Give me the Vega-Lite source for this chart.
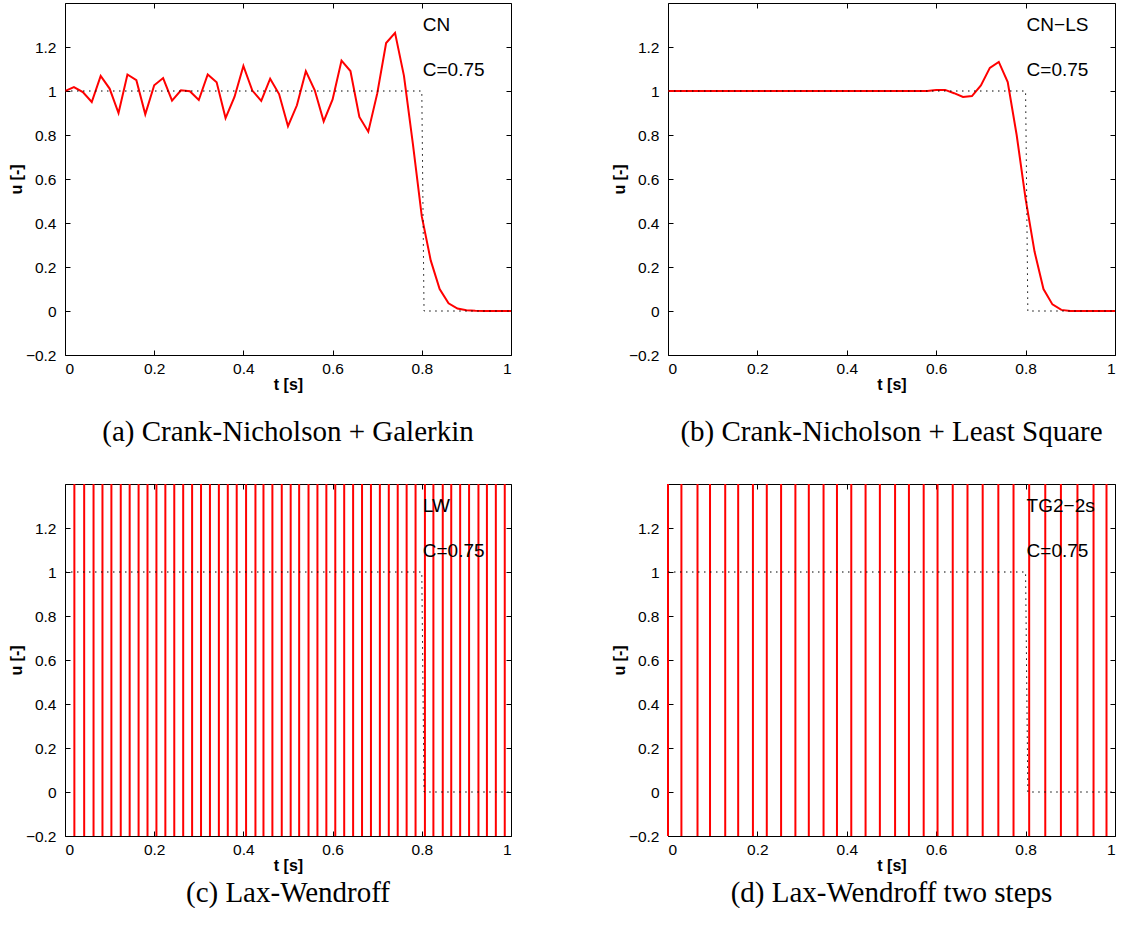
{
  "$schema": "https://vega.github.io/schema/vega-lite/v6.json",
  "background": "white",
  "padding": {"left": 8, "top": 2, "right": 0, "bottom": 0},
  "config": {
    "view": {"stroke": null},
    "axis": {
      "grid": false,
      "domainColor": "black",
      "domainWidth": 1,
      "tickColor": "black",
      "tickWidth": 1,
      "tickSize": -5,
      "labelColor": "black",
      "titleColor": "black",
      "labelFont": "Liberation Sans",
      "titleFont": "Liberation Sans",
      "labelFontSize": 15.5,
      "titleFontSize": 16,
      "titleFontWeight": "bold"
    },
    "axisX": {"labelPadding": 11, "titlePadding": 0},
    "axisY": {"labelPadding": 14, "titlePadding": 1},
    "title": {
      "orient": "bottom",
      "font": "Liberation Serif",
      "fontSize": 29,
      "fontWeight": "normal",
      "color": "black",
      "anchor": "middle",
      "frame": "group"
    }
  },
  "datasets": {
    "cn": [
      {"t": 0.00, "u": 1.000}, {"t": 0.02, "u": 1.018}, {"t": 0.04, "u": 0.995}, {"t": 0.06, "u": 0.950},
      {"t": 0.08, "u": 1.068}, {"t": 0.10, "u": 1.011}, {"t": 0.12, "u": 0.900}, {"t": 0.14, "u": 1.075},
      {"t": 0.16, "u": 1.049}, {"t": 0.18, "u": 0.894}, {"t": 0.20, "u": 1.026}, {"t": 0.22, "u": 1.059},
      {"t": 0.24, "u": 0.956}, {"t": 0.26, "u": 1.003}, {"t": 0.28, "u": 0.999}, {"t": 0.30, "u": 0.959},
      {"t": 0.32, "u": 1.075}, {"t": 0.34, "u": 1.040}, {"t": 0.36, "u": 0.877}, {"t": 0.38, "u": 0.973},
      {"t": 0.40, "u": 1.114}, {"t": 0.42, "u": 1.002}, {"t": 0.44, "u": 0.955}, {"t": 0.46, "u": 1.056},
      {"t": 0.48, "u": 0.986}, {"t": 0.50, "u": 0.840}, {"t": 0.52, "u": 0.935}, {"t": 0.54, "u": 1.090},
      {"t": 0.56, "u": 1.003}, {"t": 0.58, "u": 0.862}, {"t": 0.60, "u": 0.962}, {"t": 0.62, "u": 1.138},
      {"t": 0.64, "u": 1.091}, {"t": 0.66, "u": 0.882}, {"t": 0.68, "u": 0.815}, {"t": 0.70, "u": 0.988},
      {"t": 0.72, "u": 1.218}, {"t": 0.74, "u": 1.264}, {"t": 0.76, "u": 1.069}, {"t": 0.78, "u": 0.760},
      {"t": 0.80, "u": 0.430}, {"t": 0.82, "u": 0.230}, {"t": 0.84, "u": 0.100}, {"t": 0.86, "u": 0.035},
      {"t": 0.88, "u": 0.011}, {"t": 0.90, "u": 0.003}, {"t": 0.92, "u": 0.001}, {"t": 0.94, "u": 0.000},
      {"t": 0.96, "u": 0.000}, {"t": 0.98, "u": 0.000}, {"t": 1.00, "u": 0.000}
    ],
    "cnls": [
      {"t": 0.00, "u": 1.000}, {"t": 0.02, "u": 1.000}, {"t": 0.04, "u": 1.000}, {"t": 0.06, "u": 1.000},
      {"t": 0.08, "u": 1.000}, {"t": 0.10, "u": 1.000}, {"t": 0.12, "u": 1.000}, {"t": 0.14, "u": 1.000},
      {"t": 0.16, "u": 1.000}, {"t": 0.18, "u": 1.000}, {"t": 0.20, "u": 1.000}, {"t": 0.22, "u": 1.000},
      {"t": 0.24, "u": 1.000}, {"t": 0.26, "u": 1.000}, {"t": 0.28, "u": 1.000}, {"t": 0.30, "u": 1.000},
      {"t": 0.32, "u": 1.000}, {"t": 0.34, "u": 1.000}, {"t": 0.36, "u": 1.000}, {"t": 0.38, "u": 1.000},
      {"t": 0.40, "u": 1.000}, {"t": 0.42, "u": 1.000}, {"t": 0.44, "u": 1.000}, {"t": 0.46, "u": 1.000},
      {"t": 0.48, "u": 1.000}, {"t": 0.50, "u": 1.000}, {"t": 0.52, "u": 1.000}, {"t": 0.54, "u": 1.000},
      {"t": 0.56, "u": 1.000}, {"t": 0.58, "u": 1.000}, {"t": 0.60, "u": 1.005}, {"t": 0.62, "u": 1.005},
      {"t": 0.64, "u": 0.990}, {"t": 0.66, "u": 0.973}, {"t": 0.68, "u": 0.977}, {"t": 0.70, "u": 1.025},
      {"t": 0.72, "u": 1.105}, {"t": 0.74, "u": 1.132}, {"t": 0.76, "u": 1.041}, {"t": 0.78, "u": 0.800},
      {"t": 0.80, "u": 0.510}, {"t": 0.82, "u": 0.270}, {"t": 0.84, "u": 0.100}, {"t": 0.86, "u": 0.030},
      {"t": 0.88, "u": 0.005}, {"t": 0.90, "u": 0.000}, {"t": 0.92, "u": 0.000}, {"t": 0.94, "u": 0.000},
      {"t": 0.96, "u": 0.000}, {"t": 0.98, "u": 0.000}, {"t": 1.00, "u": 0.000}
    ],
    "lw": [
      {"t": 0.021}, {"t": 0.043}, {"t": 0.064}, {"t": 0.084}, {"t": 0.104}, {"t": 0.125}, {"t": 0.145},
      {"t": 0.165}, {"t": 0.185}, {"t": 0.205}, {"t": 0.225}, {"t": 0.245}, {"t": 0.265}, {"t": 0.285},
      {"t": 0.305}, {"t": 0.325}, {"t": 0.345}, {"t": 0.365}, {"t": 0.385}, {"t": 0.406}, {"t": 0.427},
      {"t": 0.445}, {"t": 0.465}, {"t": 0.486}, {"t": 0.506}, {"t": 0.525}, {"t": 0.546}, {"t": 0.566},
      {"t": 0.586}, {"t": 0.606}, {"t": 0.626}, {"t": 0.646}, {"t": 0.666}, {"t": 0.686}, {"t": 0.706},
      {"t": 0.726}, {"t": 0.746}, {"t": 0.766}, {"t": 0.786}, {"t": 0.807}, {"t": 0.826}, {"t": 0.847},
      {"t": 0.866}, {"t": 0.886}, {"t": 0.906}, {"t": 0.927}, {"t": 0.946}, {"t": 0.966}, {"t": 0.986}
    ],
    "tg2": [
      {"t": 0.000}, {"t": 0.030}, {"t": 0.066}, {"t": 0.094}, {"t": 0.128}, {"t": 0.157}, {"t": 0.190},
      {"t": 0.221}, {"t": 0.253}, {"t": 0.285}, {"t": 0.315}, {"t": 0.348}, {"t": 0.378}, {"t": 0.410},
      {"t": 0.442}, {"t": 0.474}, {"t": 0.508}, {"t": 0.539}, {"t": 0.572}, {"t": 0.603}, {"t": 0.637},
      {"t": 0.670}, {"t": 0.704}, {"t": 0.739}, {"t": 0.773}, {"t": 0.808}, {"t": 0.844}, {"t": 0.879},
      {"t": 0.916}, {"t": 0.952}, {"t": 0.981}
    ],
    "exact": [
      {"t": 0.0, "u": 1}, {"t": 0.8, "u": 1}, {"t": 0.805, "u": 0}, {"t": 1.0, "u": 0}
    ]
  },
  "vconcat": [
    {
      "hconcat": [
        {
          "width": 446, "height": 352,
          "title": {"text": "(a) Crank-Nicholson + Galerkin", "offset": 25},
          "layer": [
            {
              "data": {"name": "cn"},
              "mark": {"type": "line", "color": "#ff0000", "strokeWidth": 2, "clip": true},
              "encoding": {
                "x": {"field": "t", "type": "quantitative", "scale": {"domain": [0, 1], "nice": false, "zero": false},
                      "axis": {"orient": "bottom", "title": "t [s]", "values": [0, 0.2, 0.4, 0.6, 0.8, 1], "format": "~g"}},
                "y": {"field": "u", "type": "quantitative", "scale": {"domain": [-0.2, 1.4], "nice": false, "zero": false}, "axis": null}
              }
            },
            {
              "data": {"name": "exact"},
              "mark": {"type": "line", "color": "black", "strokeWidth": 1, "strokeDash": [1.5, 4.5]},
              "encoding": {
                "x": {"field": "t", "type": "quantitative", "scale": {"domain": [0, 1], "nice": false, "zero": false},
                      "axis": {"orient": "top", "title": null, "labels": false, "values": [0, 0.2, 0.4, 0.6, 0.8, 1]}},
                "y": {"field": "u", "type": "quantitative", "scale": {"domain": [-0.2, 1.4], "nice": false, "zero": false},
                      "axis": {"orient": "left", "title": "u [-]", "values": [-0.2, 0, 0.2, 0.4, 0.6, 0.8, 1, 1.2], "format": "~g"}}
              }
            },
            {
              "data": {"values": [{"t": 0.8, "u": 1.3, "label": "CN"}, {"t": 0.8, "u": 1.095, "label": "C=0.75"}]},
              "mark": {"type": "text", "align": "left", "baseline": "middle", "font": "Liberation Sans", "fontSize": 19, "dx": 1, "color": "black"},
              "encoding": {
                "x": {"field": "t", "type": "quantitative", "scale": {"domain": [0, 1], "nice": false, "zero": false}, "axis": null},
                "y": {"field": "u", "type": "quantitative", "scale": {"domain": [-0.2, 1.4], "nice": false, "zero": false},
                      "axis": {"orient": "right", "title": null, "labels": false, "values": [-0.2, 0, 0.2, 0.4, 0.6, 0.8, 1, 1.2]}},
                "text": {"field": "label"}
              }
            }
          ],
          "resolve": {"axis": {"x": "independent", "y": "independent"}}
        },
        {
          "width": 447, "height": 352,
          "title": {"text": "(b) Crank-Nicholson + Least Square", "offset": 25},
          "layer": [
            {
              "data": {"name": "cnls"},
              "mark": {"type": "line", "color": "#ff0000", "strokeWidth": 2, "clip": true},
              "encoding": {
                "x": {"field": "t", "type": "quantitative", "scale": {"domain": [0, 1], "nice": false, "zero": false},
                      "axis": {"orient": "bottom", "title": "t [s]", "values": [0, 0.2, 0.4, 0.6, 0.8, 1], "format": "~g"}},
                "y": {"field": "u", "type": "quantitative", "scale": {"domain": [-0.2, 1.4], "nice": false, "zero": false}, "axis": null}
              }
            },
            {
              "data": {"name": "exact"},
              "mark": {"type": "line", "color": "black", "strokeWidth": 1, "strokeDash": [1.5, 4.5]},
              "encoding": {
                "x": {"field": "t", "type": "quantitative", "scale": {"domain": [0, 1], "nice": false, "zero": false},
                      "axis": {"orient": "top", "title": null, "labels": false, "values": [0, 0.2, 0.4, 0.6, 0.8, 1]}},
                "y": {"field": "u", "type": "quantitative", "scale": {"domain": [-0.2, 1.4], "nice": false, "zero": false},
                      "axis": {"orient": "left", "title": "u [-]", "values": [-0.2, 0, 0.2, 0.4, 0.6, 0.8, 1, 1.2], "format": "~g"}}
              }
            },
            {
              "data": {"values": [{"t": 0.8, "u": 1.3, "label": "CN−LS"}, {"t": 0.8, "u": 1.095, "label": "C=0.75"}]},
              "mark": {"type": "text", "align": "left", "baseline": "middle", "font": "Liberation Sans", "fontSize": 19, "dx": 1, "color": "black"},
              "encoding": {
                "x": {"field": "t", "type": "quantitative", "scale": {"domain": [0, 1], "nice": false, "zero": false}, "axis": null},
                "y": {"field": "u", "type": "quantitative", "scale": {"domain": [-0.2, 1.4], "nice": false, "zero": false},
                      "axis": {"orient": "right", "title": null, "labels": false, "values": [-0.2, 0, 0.2, 0.4, 0.6, 0.8, 1, 1.2]}},
                "text": {"field": "label"}
              }
            }
          ],
          "resolve": {"axis": {"x": "independent", "y": "independent"}}
        }
      ],
      "spacing": 98
    },
    {
      "hconcat": [
        {
          "width": 446, "height": 352,
          "title": {"text": "(c) Lax-Wendroff", "offset": 5},
          "layer": [
            {
              "data": {"name": "lw"},
              "mark": {"type": "rule", "color": "#ff0000", "strokeWidth": 2},
              "encoding": {
                "x": {"field": "t", "type": "quantitative", "scale": {"domain": [0, 1], "nice": false, "zero": false},
                      "axis": {"orient": "bottom", "title": "t [s]", "values": [0, 0.2, 0.4, 0.6, 0.8, 1], "format": "~g"}}
              }
            },
            {
              "data": {"name": "exact"},
              "mark": {"type": "line", "color": "black", "strokeWidth": 1, "strokeDash": [1.5, 4.5]},
              "encoding": {
                "x": {"field": "t", "type": "quantitative", "scale": {"domain": [0, 1], "nice": false, "zero": false},
                      "axis": {"orient": "top", "title": null, "labels": false, "values": [0, 0.2, 0.4, 0.6, 0.8, 1]}},
                "y": {"field": "u", "type": "quantitative", "scale": {"domain": [-0.2, 1.4], "nice": false, "zero": false},
                      "axis": {"orient": "left", "title": "u [-]", "values": [-0.2, 0, 0.2, 0.4, 0.6, 0.8, 1, 1.2], "format": "~g"}}
              }
            },
            {
              "data": {"values": [{"t": 0.8, "u": 1.3, "label": "LW"}, {"t": 0.8, "u": 1.095, "label": "C=0.75"}]},
              "mark": {"type": "text", "align": "left", "baseline": "middle", "font": "Liberation Sans", "fontSize": 19, "dx": 1, "color": "black"},
              "encoding": {
                "x": {"field": "t", "type": "quantitative", "scale": {"domain": [0, 1], "nice": false, "zero": false}, "axis": null},
                "y": {"field": "u", "type": "quantitative", "scale": {"domain": [-0.2, 1.4], "nice": false, "zero": false},
                      "axis": {"orient": "right", "title": null, "labels": false, "values": [-0.2, 0, 0.2, 0.4, 0.6, 0.8, 1, 1.2]}},
                "text": {"field": "label"}
              }
            }
          ],
          "resolve": {"axis": {"x": "independent", "y": "independent"}}
        },
        {
          "width": 447, "height": 352,
          "title": {"text": "(d) Lax-Wendroff two steps", "offset": 5},
          "layer": [
            {
              "data": {"name": "tg2"},
              "mark": {"type": "rule", "color": "#ff0000", "strokeWidth": 2},
              "encoding": {
                "x": {"field": "t", "type": "quantitative", "scale": {"domain": [0, 1], "nice": false, "zero": false},
                      "axis": {"orient": "bottom", "title": "t [s]", "values": [0, 0.2, 0.4, 0.6, 0.8, 1], "format": "~g"}}
              }
            },
            {
              "data": {"name": "exact"},
              "mark": {"type": "line", "color": "black", "strokeWidth": 1, "strokeDash": [1.5, 4.5]},
              "encoding": {
                "x": {"field": "t", "type": "quantitative", "scale": {"domain": [0, 1], "nice": false, "zero": false},
                      "axis": {"orient": "top", "title": null, "labels": false, "values": [0, 0.2, 0.4, 0.6, 0.8, 1]}},
                "y": {"field": "u", "type": "quantitative", "scale": {"domain": [-0.2, 1.4], "nice": false, "zero": false},
                      "axis": {"orient": "left", "title": "u [-]", "values": [-0.2, 0, 0.2, 0.4, 0.6, 0.8, 1, 1.2], "format": "~g"}}
              }
            },
            {
              "data": {"values": [{"t": 0.8, "u": 1.3, "label": "TG2−2s"}, {"t": 0.8, "u": 1.095, "label": "C=0.75"}]},
              "mark": {"type": "text", "align": "left", "baseline": "middle", "font": "Liberation Sans", "fontSize": 19, "dx": 1, "color": "black"},
              "encoding": {
                "x": {"field": "t", "type": "quantitative", "scale": {"domain": [0, 1], "nice": false, "zero": false}, "axis": null},
                "y": {"field": "u", "type": "quantitative", "scale": {"domain": [-0.2, 1.4], "nice": false, "zero": false},
                      "axis": {"orient": "right", "title": null, "labels": false, "values": [-0.2, 0, 0.2, 0.4, 0.6, 0.8, 1, 1.2]}},
                "text": {"field": "label"}
              }
            }
          ],
          "resolve": {"axis": {"x": "independent", "y": "independent"}}
        }
      ],
      "spacing": 98
    }
  ],
  "spacing": 36
}
